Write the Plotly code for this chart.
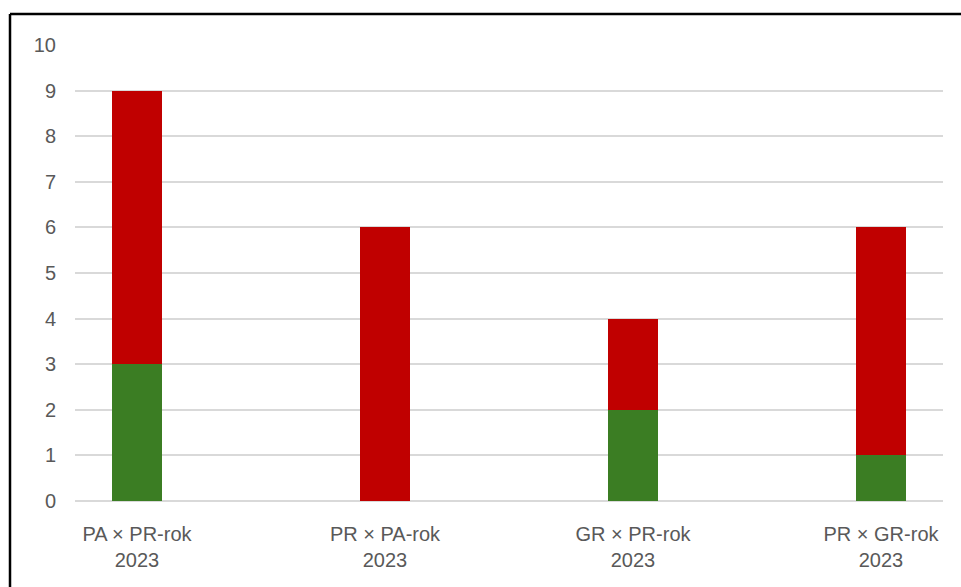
import plotly.graph_objects as go

# Category labels (pair name, year) and stacked segment values
pairs = ["PA × PR-rok", "PR × PA-rok", "GR × PR-rok", "PR × GR-rok"]
years = ["2023", "2023", "2023", "2023"]
green_vals = [3, 0, 2, 1]
red_vals = [6, 6, 2, 5]
y_ticks = list(range(0, 11))

GREEN = "#3B7D23"
RED = "#C00000"
TEXT = "#595959"
FONT = "Liberation Sans"

labels = [f"{p}<br>{y}" for p, y in zip(pairs, years)]
xs = list(range(len(pairs)))

fig = go.Figure()
fig.add_trace(go.Bar(x=xs, y=green_vals, marker=dict(color=GREEN, line=dict(width=0)),
                     width=0.2, hoverinfo="skip"))
fig.add_trace(go.Bar(x=xs, y=red_vals, marker=dict(color=RED, line=dict(width=0)),
                     width=0.2, hoverinfo="skip"))

W, H = 961, 587
L, R, T, B = 75, 18, 45, 86
pw, ph = W - L - R, H - T - B

fig.update_layout(
    width=W, height=H, barmode="stack", showlegend=False,
    margin=dict(l=L, r=R, t=T, b=B, autoexpand=False),
    paper_bgcolor="white", plot_bgcolor="white",
    font=dict(family=FONT, size=20, color=TEXT),
    xaxis=dict(range=[-0.25, len(pairs) - 0.75], tickvals=xs, ticktext=labels,
               showgrid=False, zeroline=False, showline=False,
               ticks="outside", ticklen=15, tickcolor="rgba(0,0,0,0)"),
    yaxis=dict(range=[0, 10], tickvals=y_ticks, showgrid=True, gridcolor="#D9D9D9",
               gridwidth=2, zeroline=True, zerolinecolor="#D9D9D9", zerolinewidth=2,
               showline=False, ticks="outside", ticklen=14, tickcolor="rgba(0,0,0,0)"),
)

# Chart frame (top and left edges visible inside the page)
x_left = (10 - L) / pw
y_top = 1 + (T - 14) / ph
fig.add_shape(type="line", xref="paper", yref="paper", x0=x_left, x1=1 + R / pw,
              y0=y_top, y1=y_top, line=dict(color="black", width=2.5))
fig.add_shape(type="line", xref="paper", yref="paper", x0=x_left, x1=x_left,
              y0=y_top, y1=-B / ph, line=dict(color="black", width=2.5))

fig.write_html("out.html")
